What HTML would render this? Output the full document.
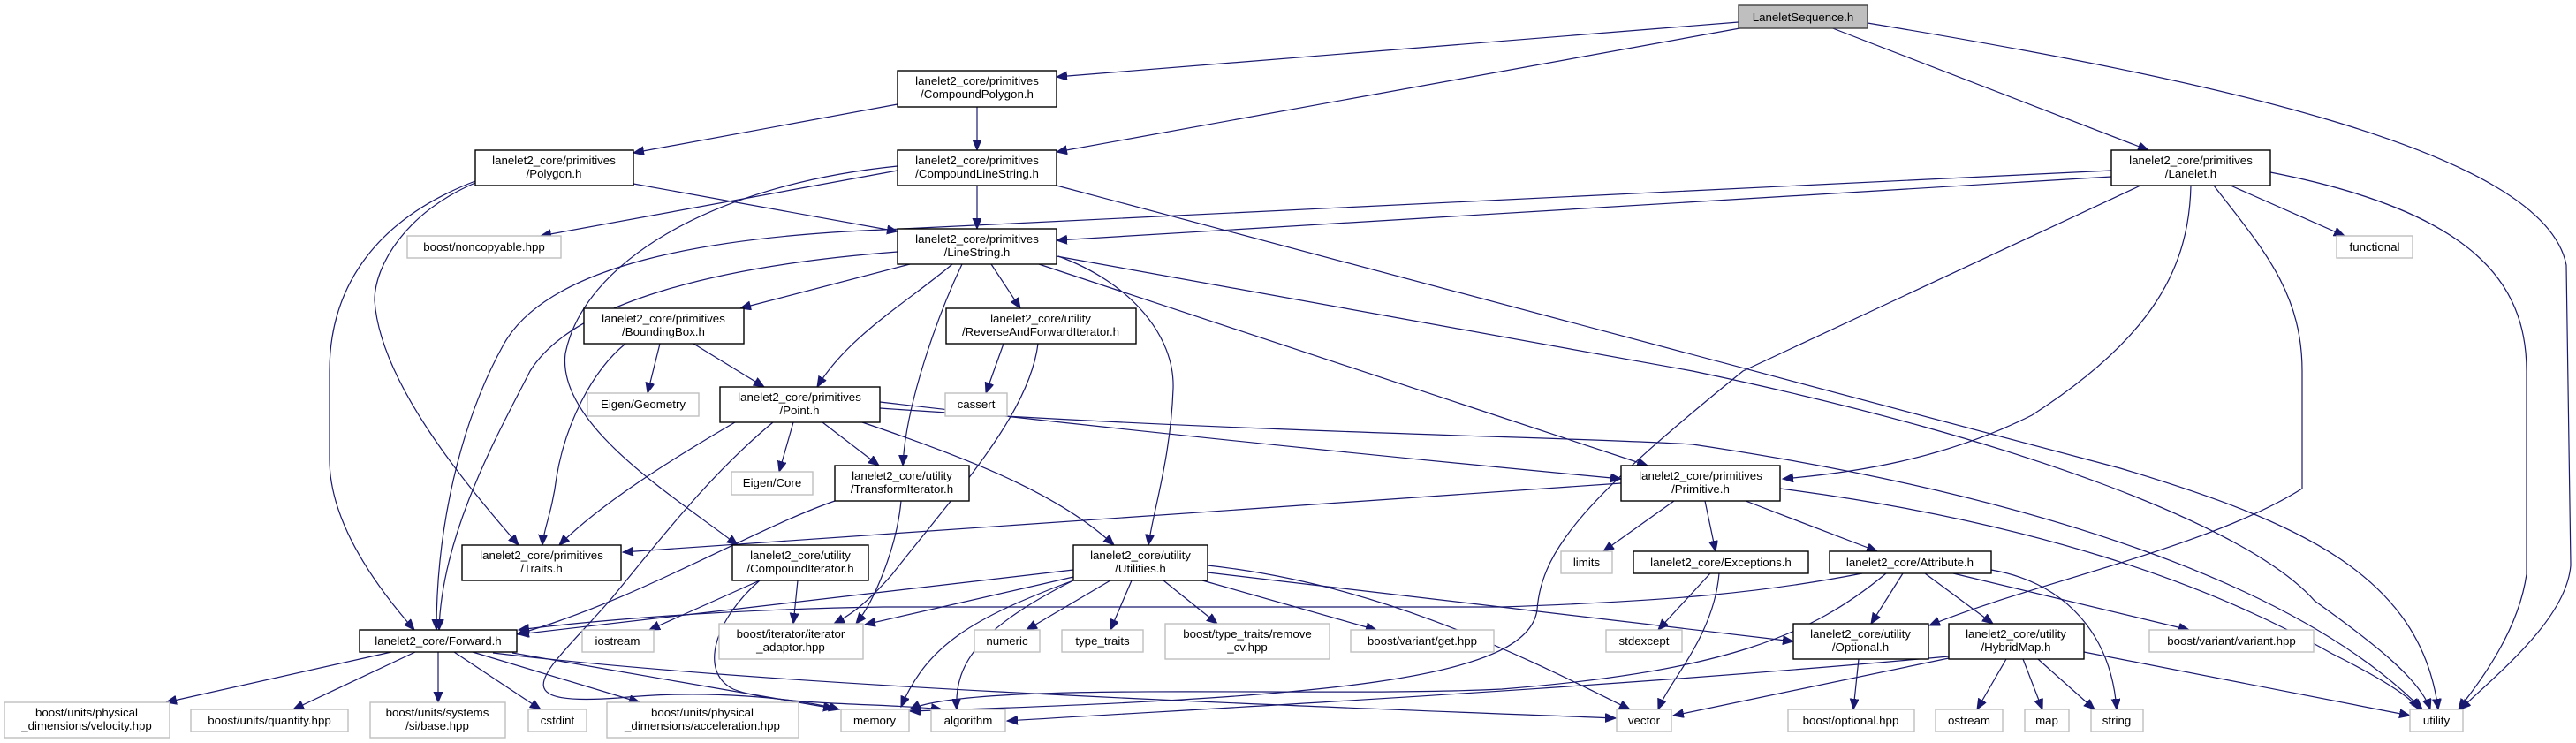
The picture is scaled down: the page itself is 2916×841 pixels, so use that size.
<!DOCTYPE html>
<html><head><meta charset="utf-8"><style>
html,body{margin:0;padding:0;background:#fff;}
svg{display:block;}
text{font-family:"Liberation Sans","DejaVu Sans",sans-serif;font-size:13.3px;fill:#000;}
.e{fill:none;stroke:#191970;stroke-width:1.2;marker-end:url(#a);}
.n{fill:#fff;stroke:#000;stroke-width:1.4;}
.g{fill:#fff;stroke:#bfbfbf;stroke-width:1.4;}
</style></head><body>
<svg width="2916" height="841" viewBox="0 0 2916 841" xmlns="http://www.w3.org/2000/svg">
<defs><marker id="a" markerUnits="userSpaceOnUse" markerWidth="14" markerHeight="12" refX="12" refY="5" orient="auto"><path d="M0,0 L12,5 L0,10 z" fill="#191970" stroke="#191970"/></marker></defs>

<!-- edges -->
<path class="e" d="M1968,25 L1196,87"/>
<path class="e" d="M1975,31 L1196,172"/>
<path class="e" d="M2072,31 L2432,170"/>
<path class="e" d="M2114,26 C2500,90 2880,170 2905,300 L2910,640 C2905,700 2830,760 2785,803"/>
<path class="e" d="M1016,118 L717,173"/>
<path class="e" d="M1106,121 L1106,170"/>
<path class="e" d="M717,208 L1016,262"/>
<path class="e" d="M538,205 C420,250 373,330 373,420 L373,520 C373,600 440,680 469,713"/>
<path class="e" d="M538,207 C460,240 424,300 424,340 C430,430 520,540 587,617"/>
<path class="e" d="M1016,193 L612,267"/>
<path class="e" d="M1016,188 C800,210 660,300 640,400 C630,480 760,560 835,617"/>
<path class="e" d="M1106,210 L1106,259"/>
<path class="e" d="M1196,210 L2400,530 C2600,590 2740,650 2760,803"/>
<path class="e" d="M2570,195 C2800,240 2860,320 2860,420 L2860,650 C2850,720 2800,780 2783,803"/>
<path class="e" d="M2506,210 C2560,280 2606,330 2606,420 L2606,553 C2500,620 2300,660 2184,708"/>
<path class="e" d="M2480,210 C2478,300 2440,380 2300,470 C2200,520 2100,535 2018,542"/>
<path class="e" d="M2423,210 L1973,420 C1800,560 1745,620 1740,690 C1730,770 1500,790 1030,805"/>
<path class="e" d="M2390,200 L1196,272"/>
<path class="e" d="M2390,193 L1000,260 C800,268 620,300 570,390 C520,480 494,600 494,713"/>
<path class="e" d="M2525,210 L2654,267"/>
<path class="e" d="M1016,285 C820,300 650,340 600,420 C570,480 500,600 497,713"/>
<path class="e" d="M1030,299 L838,349"/>
<path class="e" d="M1078,299 C1030,340 960,380 925,438"/>
<path class="e" d="M1089,299 C1060,360 1025,460 1022,527"/>
<path class="e" d="M1122,299 L1155,349"/>
<path class="e" d="M1198,290 C1280,320 1330,380 1328,440 C1325,520 1305,580 1300,617"/>
<path class="e" d="M1176,299 L1865,527"/>
<path class="e" d="M1196,290 L1916,420 C2300,500 2550,600 2620,680 C2690,730 2740,770 2751,803"/>
<path class="e" d="M747,389 L733,445"/>
<path class="e" d="M785,389 L865,438"/>
<path class="e" d="M708,389 C670,420 640,480 630,540 C625,580 615,600 614,617"/>
<path class="e" d="M1136,389 L1116,445"/>
<path class="e" d="M1175,389 C1165,470 1080,560 1010,650 C975,690 955,700 944,706"/>
<path class="e" d="M832,478 C760,520 680,570 633,617"/>
<path class="e" d="M875,478 C800,540 740,620 690,680 C620,760 560,800 700,790 C800,780 900,790 950,803"/>
<path class="e" d="M898,478 L882,534"/>
<path class="e" d="M931,478 L995,527"/>
<path class="e" d="M976,478 C1100,520 1200,560 1261,617"/>
<path class="e" d="M996,455 C1300,490 1600,520 1835,542"/>
<path class="e" d="M996,462 C1400,490 1800,495 1916,503 C2300,560 2600,660 2742,803"/>
<path class="e" d="M945,567 C850,600 720,680 585,718"/>
<path class="e" d="M1020,567 C1015,620 990,680 969,706"/>
<path class="e" d="M1835,547 L705,625"/>
<path class="e" d="M1895,567 L1815,624"/>
<path class="e" d="M1930,567 L1942,624"/>
<path class="e" d="M1976,567 L2125,624"/>
<path class="e" d="M2015,553 C2300,590 2500,660 2640,740 C2700,770 2730,790 2738,803"/>
<path class="e" d="M860,657 L735,713"/>
<path class="e" d="M903,657 L898,706"/>
<path class="e" d="M860,657 C810,700 790,760 830,780 C880,800 1000,795 1066,803"/>
<path class="e" d="M1257,657 L1162,713"/>
<path class="e" d="M1281,657 L1257,713"/>
<path class="e" d="M1317,657 L1378,706"/>
<path class="e" d="M1361,657 L1558,713"/>
<path class="e" d="M1367,640 C1550,660 1700,730 1845,803"/>
<path class="e" d="M1367,648 L2030,726"/>
<path class="e" d="M1215,645 L587,718"/>
<path class="e" d="M1215,653 L979,707"/>
<path class="e" d="M1215,657 C1100,700 1050,730 1020,800"/>
<path class="e" d="M1215,657 C1110,710 1080,750 1083,803"/>
<path class="e" d="M1936,649 L1877,713"/>
<path class="e" d="M1946,649 C1940,720 1890,770 1877,803"/>
<path class="e" d="M2108,649 C2000,670 1900,680 1700,687 L1000,687 C800,690 650,705 587,713"/>
<path class="e" d="M2135,649 C2050,720 1950,760 1700,780 C1500,790 1100,770 1030,803"/>
<path class="e" d="M2154,649 L2118,706"/>
<path class="e" d="M2179,649 L2256,706"/>
<path class="e" d="M2211,649 L2478,713"/>
<path class="e" d="M2254,645 C2340,660 2390,720 2396,803"/>
<path class="e" d="M2206,743 C1800,780 1400,800 1140,816"/>
<path class="e" d="M2206,745 L1894,810"/>
<path class="e" d="M2271,746 L2238,803"/>
<path class="e" d="M2290,746 L2312,803"/>
<path class="e" d="M2307,746 L2371,803"/>
<path class="e" d="M2359,738 L2728,810"/>
<path class="e" d="M2104,746 L2098,803"/>
<path class="e" d="M443,738 L188,795"/>
<path class="e" d="M470,738 L332,803"/>
<path class="e" d="M496,738 L496,795"/>
<path class="e" d="M514,738 L612,803"/>
<path class="e" d="M535,738 L724,795"/>
<path class="e" d="M580,739 L944,802"/>
<path class="e" d="M558,739 C900,780 1500,800 1829,813"/>

<!-- nodes -->
<rect x="1968" y="6" width="146" height="26" fill="#bfbfbf" stroke="#404040" stroke-width="1.4"/><text x="2041" y="24" text-anchor="middle">LaneletSequence.h</text>
<g text-anchor="middle">
<rect class="n" x="1016" y="80" width="180" height="41"/><text x="1106" y="96">lanelet2_core/primitives</text><text x="1106" y="111">/CompoundPolygon.h</text>
<rect class="n" x="538" y="170" width="179" height="40"/><text x="627" y="186">lanelet2_core/primitives</text><text x="627" y="201">/Polygon.h</text>
<rect class="n" x="1016" y="170" width="180" height="40"/><text x="1106" y="186">lanelet2_core/primitives</text><text x="1106" y="201">/CompoundLineString.h</text>
<rect class="n" x="2390" y="170" width="180" height="40"/><text x="2480" y="186">lanelet2_core/primitives</text><text x="2480" y="201">/Lanelet.h</text>
<rect class="g" x="461" y="267" width="174" height="25"/><text x="548" y="284">boost/noncopyable.hpp</text>
<rect class="n" x="1016" y="259" width="180" height="40"/><text x="1106" y="275">lanelet2_core/primitives</text><text x="1106" y="290">/LineString.h</text>
<rect class="g" x="2645" y="267" width="86" height="25"/><text x="2688" y="284">functional</text>
<rect class="n" x="661" y="349" width="181" height="40"/><text x="751" y="365">lanelet2_core/primitives</text><text x="751" y="380">/BoundingBox.h</text>
<rect class="n" x="1071" y="349" width="215" height="40"/><text x="1178" y="365">lanelet2_core/utility</text><text x="1178" y="380">/ReverseAndForwardIterator.h</text>
<rect class="g" x="665" y="445" width="126" height="26"/><text x="728" y="462">Eigen/Geometry</text>
<rect class="g" x="1070" y="445" width="70" height="26"/><text x="1105" y="462">cassert</text>
<rect class="n" x="815" y="438" width="181" height="40"/><text x="905" y="454">lanelet2_core/primitives</text><text x="905" y="469">/Point.h</text>
<rect class="g" x="828" y="534" width="92" height="26"/><text x="874" y="551">Eigen/Core</text>
<rect class="n" x="945" y="527" width="152" height="40"/><text x="1021" y="543">lanelet2_core/utility</text><text x="1021" y="558">/TransformIterator.h</text>
<rect class="n" x="1835" y="527" width="180" height="40"/><text x="1925" y="543">lanelet2_core/primitives</text><text x="1925" y="558">/Primitive.h</text>
<rect class="n" x="523" y="617" width="180" height="40"/><text x="613" y="633">lanelet2_core/primitives</text><text x="613" y="648">/Traits.h</text>
<rect class="n" x="829" y="617" width="154" height="40"/><text x="906" y="633">lanelet2_core/utility</text><text x="906" y="648">/CompoundIterator.h</text>
<rect class="n" x="1215" y="617" width="152" height="40"/><text x="1291" y="633">lanelet2_core/utility</text><text x="1291" y="648">/Utilities.h</text>
<rect class="g" x="1767" y="624" width="58" height="25"/><text x="1796" y="641">limits</text>
<rect class="n" x="1849" y="624" width="198" height="25"/><text x="1948" y="641">lanelet2_core/Exceptions.h</text>
<rect class="n" x="2071" y="624" width="183" height="25"/><text x="2162" y="641">lanelet2_core/Attribute.h</text>
<rect class="n" x="407" y="713" width="178" height="25"/><text x="496" y="730">lanelet2_core/Forward.h</text>
<rect class="g" x="659" y="713" width="81" height="25"/><text x="699" y="730">iostream</text>
<rect class="g" x="814" y="706" width="163" height="40"/><text x="895" y="722">boost/iterator/iterator</text><text x="895" y="737">_adaptor.hpp</text>
<rect class="g" x="1103" y="713" width="74" height="25"/><text x="1140" y="730">numeric</text>
<rect class="g" x="1202" y="713" width="92" height="25"/><text x="1248" y="730">type_traits</text>
<rect class="g" x="1319" y="706" width="186" height="40"/><text x="1412" y="722">boost/type_traits/remove</text><text x="1412" y="737">_cv.hpp</text>
<rect class="g" x="1529" y="713" width="162" height="25"/><text x="1610" y="730">boost/variant/get.hpp</text>
<rect class="g" x="1818" y="713" width="86" height="25"/><text x="1861" y="730">stdexcept</text>
<rect class="n" x="2030" y="706" width="153" height="40"/><text x="2106" y="722">lanelet2_core/utility</text><text x="2106" y="737">/Optional.h</text>
<rect class="n" x="2206" y="706" width="153" height="40"/><text x="2282" y="722">lanelet2_core/utility</text><text x="2282" y="737">/HybridMap.h</text>
<rect class="g" x="2433" y="713" width="186" height="25"/><text x="2526" y="730">boost/variant/variant.hpp</text>
<rect class="g" x="5" y="795" width="187" height="40"/><text x="98" y="811">boost/units/physical</text><text x="98" y="826">_dimensions/velocity.hpp</text>
<rect class="g" x="216" y="803" width="178" height="25"/><text x="305" y="820">boost/units/quantity.hpp</text>
<rect class="g" x="419" y="795" width="153" height="40"/><text x="495" y="811">boost/units/systems</text><text x="495" y="826">/si/base.hpp</text>
<rect class="g" x="598" y="803" width="66" height="25"/><text x="631" y="820">cstdint</text>
<rect class="g" x="687" y="795" width="217" height="40"/><text x="795" y="811">boost/units/physical</text><text x="795" y="826">_dimensions/acceleration.hpp</text>
<rect class="g" x="952" y="803" width="77" height="25"/><text x="990" y="820">memory</text>
<rect class="g" x="1054" y="803" width="84" height="25"/><text x="1096" y="820">algorithm</text>
<rect class="g" x="1830" y="803" width="62" height="25"/><text x="1861" y="820">vector</text>
<rect class="g" x="2024" y="803" width="143" height="25"/><text x="2095" y="820">boost/optional.hpp</text>
<rect class="g" x="2191" y="803" width="76" height="25"/><text x="2229" y="820">ostream</text>
<rect class="g" x="2292" y="803" width="50" height="25"/><text x="2317" y="820">map</text>
<rect class="g" x="2367" y="803" width="59" height="25"/><text x="2396" y="820">string</text>
<rect class="g" x="2728" y="803" width="60" height="25"/><text x="2758" y="820">utility</text>
</g>
</svg>
</body></html>
